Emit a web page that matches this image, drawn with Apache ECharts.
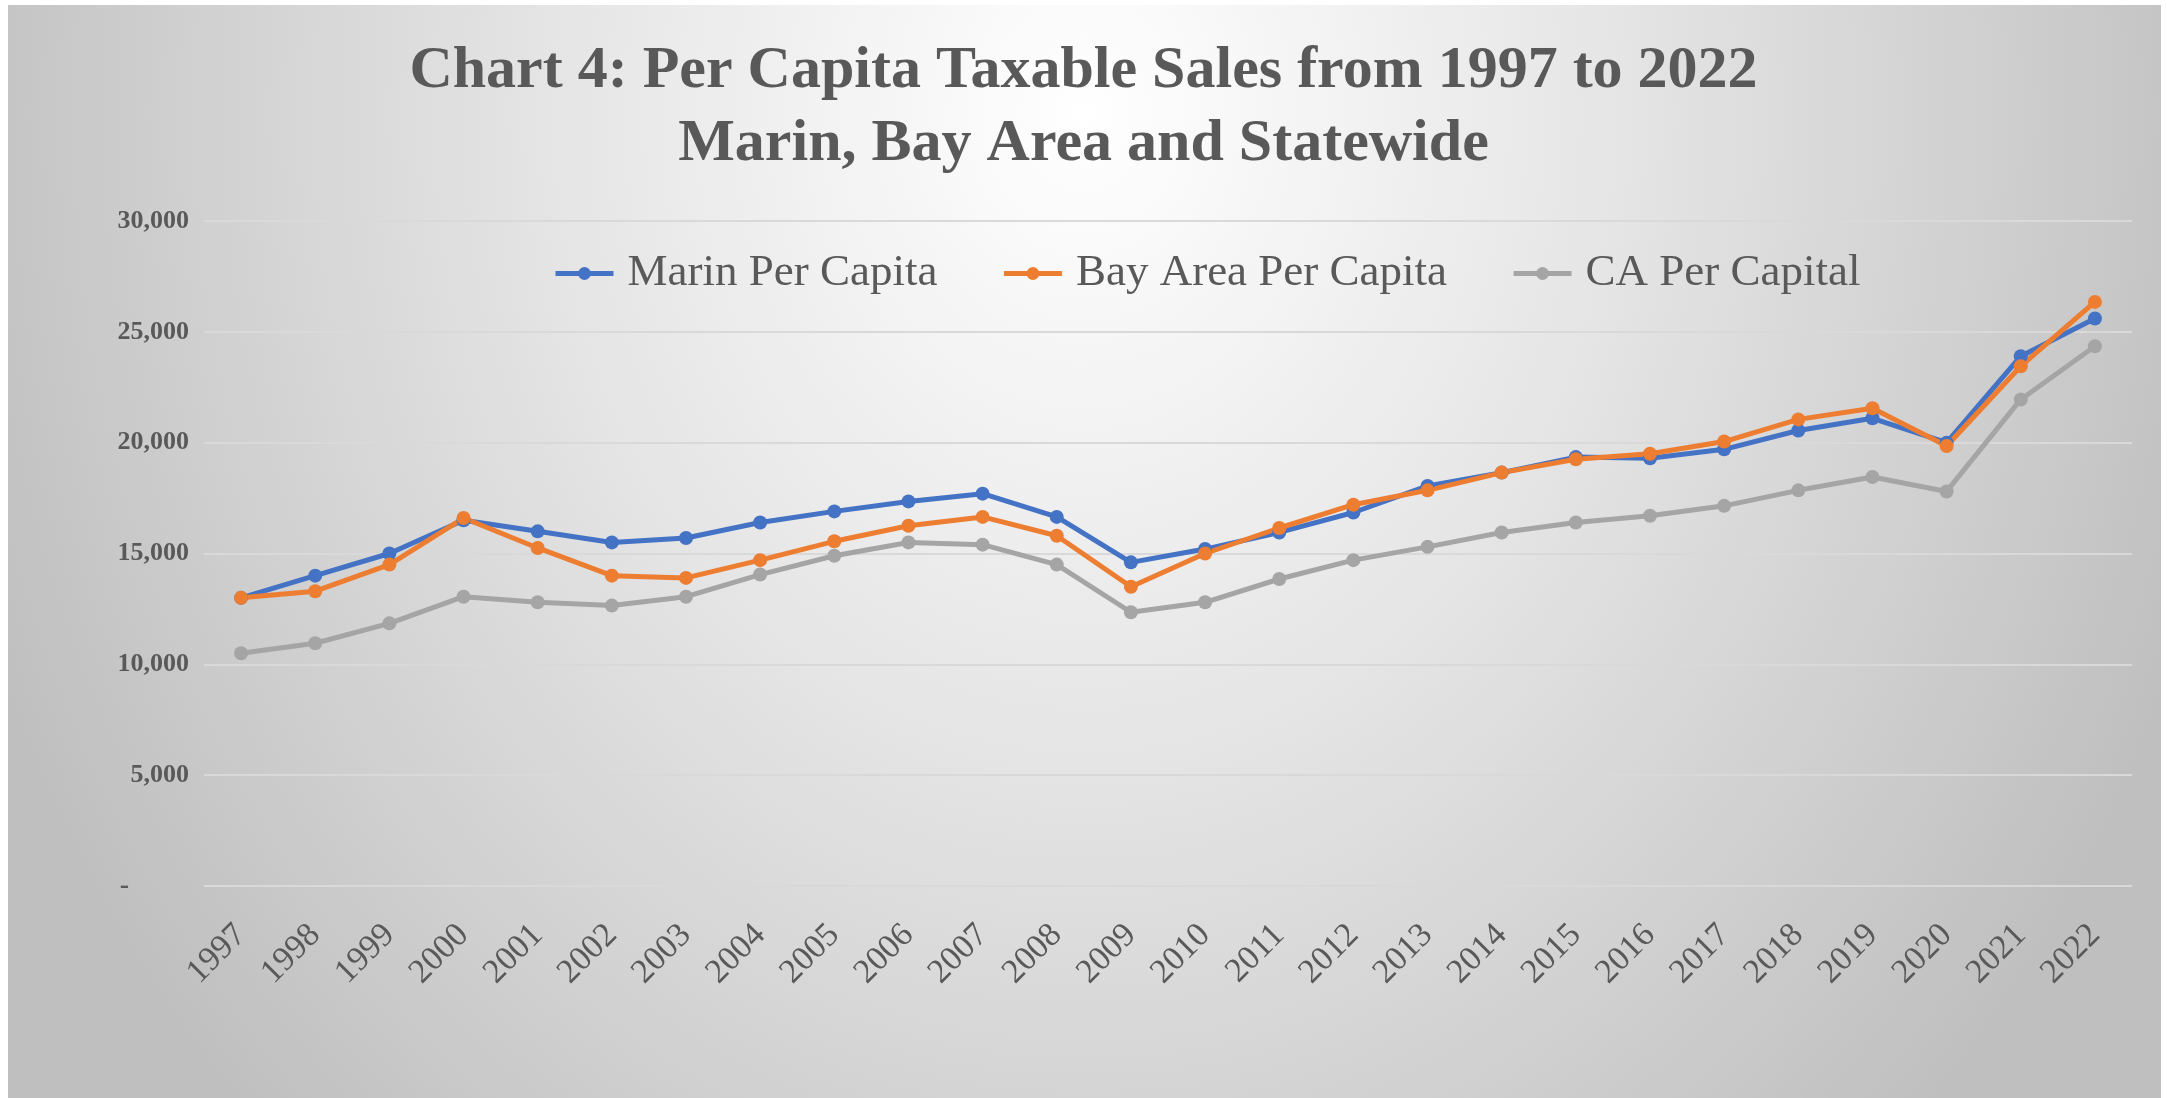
<!DOCTYPE html>
<html>
<head>
<meta charset="utf-8">
<script src="https://cdn.jsdelivr.net/npm/echarts@6/dist/echarts.min.js"></script>
<style>
  html, body { margin: 0; padding: 0; width: 2167px; height: 1098px; background: #ffffff; overflow: hidden; }
  #bg { position: absolute; left: 8px; top: 5px; right: 6px; bottom: 0;
        background: radial-gradient(ellipse 55% 130% at 50% 10%, #ffffff 0%, #e5e5e5 45%, #bfbfbf 100%); }
  #chart { position: absolute; left: 0; top: 0; width: 2167px; height: 1098px; }
</style>
</head>
<body>
<div id="bg"></div>
<div id="chart"></div>
<script>
const years = ['1997','1998','1999','2000','2001','2002','2003','2004','2005','2006','2007','2008','2009','2010','2011','2012','2013','2014','2015','2016','2017','2018','2019','2020','2021','2022'];
const marin = [13000,14000,15000,16500,16000,15500,15700,16400,16900,17350,17700,16650,14600,15200,15950,16850,18050,18650,19350,19300,19700,20550,21100,20000,23900,25600];
const bayArea = [13000,13300,14500,16600,15250,14000,13900,14700,15550,16250,16650,15800,13500,15000,16150,17200,17850,18650,19250,19500,20050,21050,21550,19850,23450,26350];
const california = [10500,10950,11850,13050,12800,12650,13050,14050,14900,15500,15400,14500,12350,12800,13850,14700,15300,15950,16400,16700,17150,17850,18450,17800,21950,24350];
const seriesNames = ['Marin Per Capita','Bay Area Per Capita','CA Per Capital'];
const yTicks = { min: 0, max: 30000, interval: 5000 };

const FONT = "'Liberation Serif', 'DejaVu Serif', serif";
const TEXT = '#595959';
const colors = ['#4472C4', '#ED7D31', '#A5A5A5'];

const chart = echarts.init(document.getElementById('chart'), null, { renderer: 'canvas' });

function mkSeries(name, data, color) {
  return {
    name: name, type: 'line', data: data,
    symbol: 'circle', symbolSize: 14,
    itemStyle: { color: color },
    lineStyle: { color: color, width: 5 },
    emphasis: { disabled: true }
  };
}

chart.setOption({
  backgroundColor: 'transparent',
  animation: false,
  color: colors,
  title: {
    text: 'Chart 4: Per Capita Taxable Sales from 1997 to 2022\nMarin, Bay Area and Statewide',
    left: 'center',
    top: 30,
    textStyle: { fontFamily: FONT, fontSize: 60, fontWeight: 'bold', color: TEXT, lineHeight: 73 }
  },
  legend: {
    left: 548, top: 246,
    itemWidth: 58, itemHeight: 16, itemGap: 64,
    lineStyle: { width: 5 },
    textStyle: { fontFamily: FONT, fontSize: 45, color: TEXT, padding: [0, 0, 0, 9] },
    data: seriesNames
  },
  grid: { left: 204, right: 35, top: 221, bottom: 212, containLabel: false },
  xAxis: {
    type: 'category', data: years, boundaryGap: true,
    axisLine: { show: false }, axisTick: { show: false },
    axisLabel: { rotate: 45, margin: 44, fontFamily: FONT, fontSize: 34, color: TEXT, interval: 0 }
  },
  yAxis: {
    type: 'value', min: yTicks.min, max: yTicks.max, interval: yTicks.interval,
    axisLine: { show: false }, axisTick: { show: false },
    splitLine: { lineStyle: { color: '#d9d9d9', width: 2 } },
    axisLabel: {
      margin: 15, fontFamily: FONT, fontSize: 26, fontWeight: 'bold', color: TEXT,
      formatter: function (v) { return v === 0 ? '{d|-}' : v.toLocaleString('en-US'); },
      rich: { d: { fontFamily: FONT, fontSize: 28, fontWeight: 'bold', color: TEXT, padding: [0, 60, 0, 0] } }
    }
  },
  series: [
    mkSeries(seriesNames[0], marin, colors[0]),
    mkSeries(seriesNames[1], bayArea, colors[1]),
    mkSeries(seriesNames[2], california, colors[2])
  ]
});
</script>
</body>
</html>
